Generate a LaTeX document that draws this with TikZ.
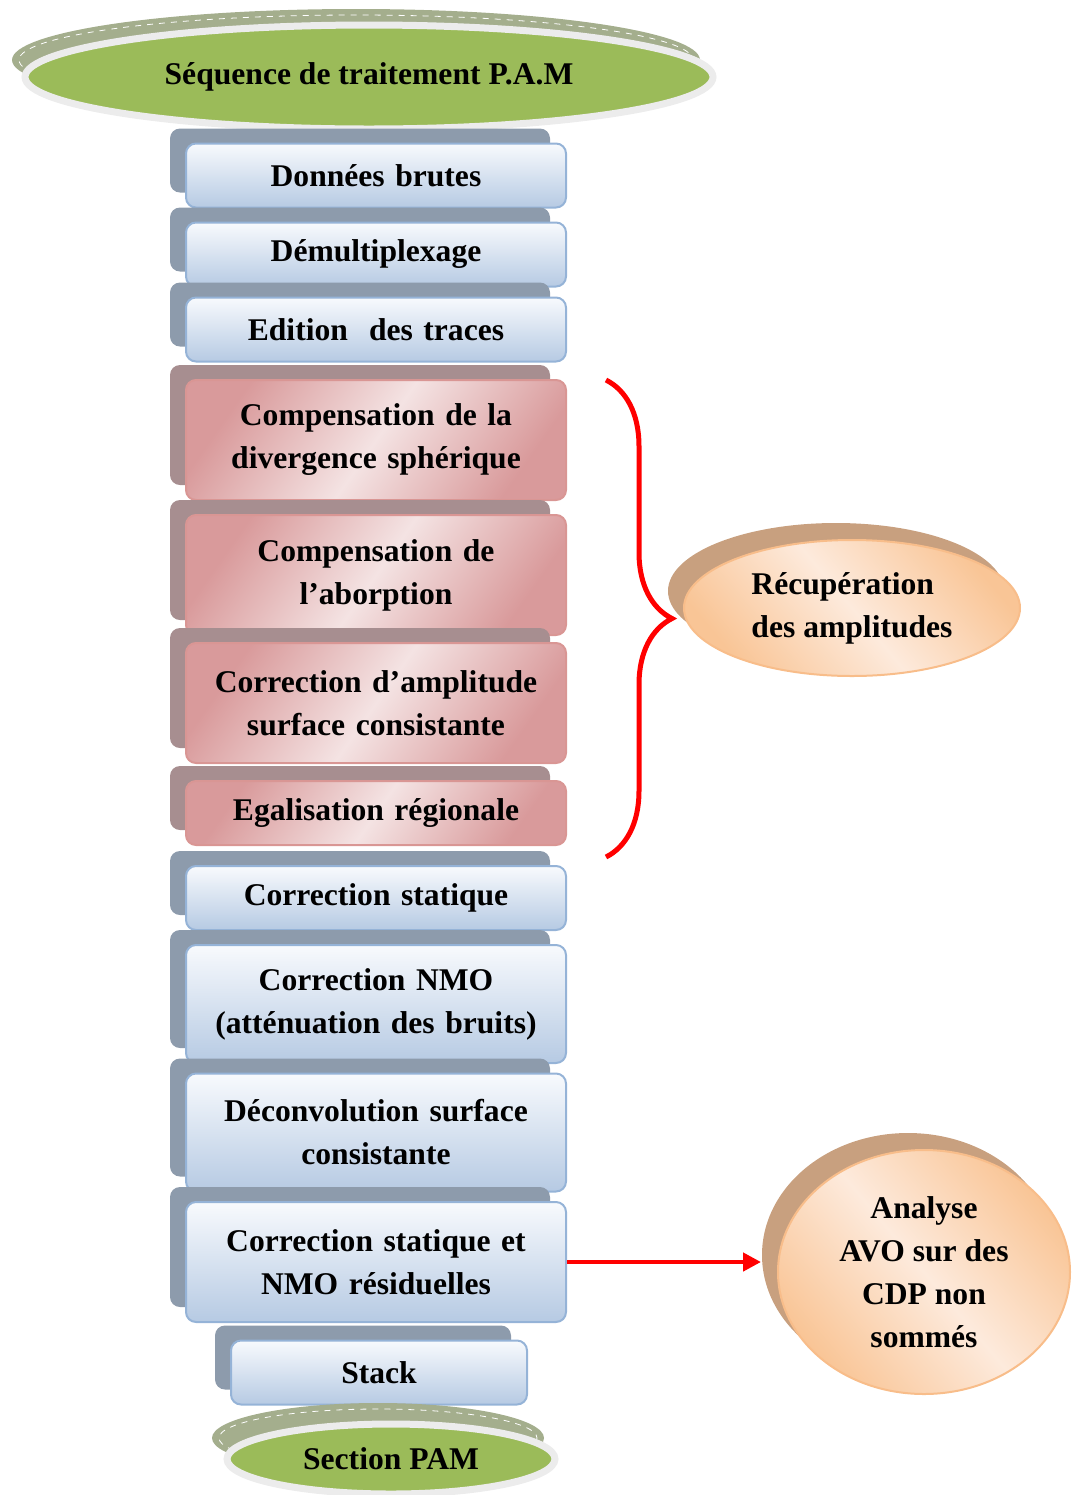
\documentclass[tikz,border=0pt]{standalone}
\usepackage{fontspec}
\setmainfont{Liberation Serif}
\usetikzlibrary{shapes.geometric,arrows.meta,shadows,decorations.pathreplacing}
\definecolor{bluetop}{HTML}{F8FAFD}
\definecolor{bluebot}{HTML}{B6CAE3}
\definecolor{blueline}{HTML}{95B3D7}
\definecolor{blueshade}{HTML}{8D9BAC}
\definecolor{rosedark}{HTML}{D99A9B}
\definecolor{roselight}{HTML}{F4E3E3}
\definecolor{roseline}{HTML}{D99694}
\definecolor{roseshade}{HTML}{A78E90}
\definecolor{oliv}{HTML}{9BBB59}
\definecolor{olivshade}{HTML}{A4AE8D}
\definecolor{ringgray}{HTML}{ECECEC}
\definecolor{peachdark}{HTML}{F9C596}
\definecolor{peachlight}{HTML}{FDEADC}
\definecolor{peachline}{HTML}{F8BD8A}
\definecolor{peachshade}{HTML}{C8A07F}
\definecolor{arrowred}{HTML}{FF0000}

\tikzset{
  every node/.style={font=\bfseries\fontsize{15.8}{21.5}\selectfont},
  stepblue/.style={draw=blueline, line width=1pt, rounded corners=5pt,
    top color=bluetop, bottom color=bluebot,
    minimum width=190pt, minimum height=32pt, text width=182pt, align=center,
    general shadow={fill=blueshade, shadow xshift=-8pt, shadow yshift=7.5pt}},
  steprose/.style={draw=roseline, line width=1pt, rounded corners=5pt,
    top color=rosedark, bottom color=rosedark, middle color=roselight, shading angle=55,
    minimum width=190pt, minimum height=32pt, text width=182pt, align=center,
    general shadow={fill=roseshade, shadow xshift=-8pt, shadow yshift=7.5pt}},
  greenback/.style={ellipse, fill=olivshade, inner sep=0pt},
  greenoval/.style={ellipse, fill=oliv, draw=ringgray, line width=3.5pt, inner sep=0pt},
  peachoval/.style={ellipse, draw=peachline, line width=1pt, inner sep=0pt,
    top color=peachdark, bottom color=peachdark, middle color=peachlight, shading angle=-50,
    general shadow={fill=peachshade, shadow xshift=-8pt, shadow yshift=8.5pt}},
}

\begin{document}
\begin{tikzpicture}[x=0.5pt,y=-0.5pt]
\useasboundingbox (0,0) rectangle (1074,1495);

% title
\node[greenback, minimum width=344pt, minimum height=51pt] (seqback) at (356,60) {};
\draw[white, dashed, line width=0.4pt] (seqback.center) ellipse [x radius=337, y radius=45];
\node[greenoval, minimum width=344pt, minimum height=52pt] (seq) at (369,77) {Séquence de traitement P.A.M};

% processing steps
\node[stepblue] (c1) at (376,175.5) {Données brutes};
\node[stepblue] (c2) at (376,254.5) {Démultiplexage};
\node[stepblue] (c3) at (376,329.5) {Edition\ \ des traces};
\node[steprose, minimum height=60pt] (c4) at (376,440) {Compensation de la\\divergence sphérique};
\node[steprose, minimum height=60pt] (c5) at (376,575) {Compensation de\\l’aborption};
\node[steprose, minimum height=60pt] (c6) at (376,703) {Correction d’amplitude\\surface consistante};
\node[steprose] (c7) at (376,813) {Egalisation régionale};
\node[stepblue] (c8) at (376,898) {Correction statique};
\node[stepblue, minimum height=59pt] (c9) at (376,1004) {Correction NMO\\(atténuation des bruits)};
\node[stepblue, minimum height=59pt] (c10) at (376,1132.5) {Déconvolution surface\\consistante};
\node[stepblue, minimum height=60pt] (c11) at (376,1262) {Correction statique et\\NMO résiduelles};
\node[stepblue, minimum width=148pt, text width=140pt] (stk) at (379,1372.5) {Stack};

% result
\node[greenback, minimum width=166pt, minimum height=35pt] (secback) at (378,1438) {};
\draw[white, dashed, line width=0.4pt] (secback.center) ellipse [x radius=159, y radius=29];
\node[greenoval, minimum width=164pt, minimum height=35pt] (sec) at (391,1459) {Section PAM};

% side ovals
\node[peachoval, minimum width=168pt, minimum height=68pt, align=left] (rec) at (852,608) {Récupération\\des amplitudes};
\node[peachoval, minimum width=146pt, minimum height=122pt, align=center] (ana) at (924,1272) {Analyse\\AVO sur des\\CDP non\\sommés};

% brace and arrow
\coordinate (brtop) at (606,380);
\coordinate (brbot) at (606,857);
\draw[arrowred, line width=2.5pt, decorate, decoration={brace, amplitude=33pt}] (brtop) -- (brbot);
\draw[arrowred, line width=2.2pt, -{Triangle[length=9pt,width=9pt]}, shorten >=8pt] (c11.east) -- (c11.east -| ana.west);
\end{tikzpicture}
\end{document}
